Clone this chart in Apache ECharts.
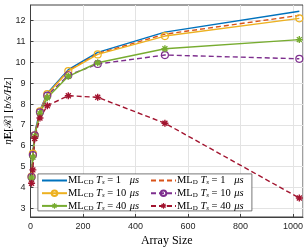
<!DOCTYPE html>
<html><head><meta charset="utf-8">
<script src="https://cdn.jsdelivr.net/npm/echarts@6/dist/echarts.min.js"></script>
<style>html,body{margin:0;padding:0;background:#fff}#c{width:307px;height:248px}</style>
</head><body><div id="c"></div>
<script>
const arraySizes = [4, 9, 16, 36, 64, 144, 256, 512, 1024];
const mlCD_Ts1  = [4.55, 5.70, 6.60, 7.70, 8.52, 9.65, 10.48, 11.45, 12.45];
const mlD_Ts1   = [4.50, 5.65, 6.55, 7.65, 8.47, 9.60, 10.42, 11.35, 12.25];
const mlCD_Ts10 = [4.52, 5.62, 6.50, 7.65, 8.47, 9.58, 10.38, 11.26, 12.11];
const mlD_Ts10  = [4.50, 5.55, 6.50, 7.60, 8.40, 9.38, 9.92, 10.35, 10.17];
const mlCD_Ts40 = [4.45, 5.45, 6.45, 7.55, 8.30, 9.33, 9.98, 10.65, 11.09];
const mlD_Ts40  = [4.20, 4.84, 6.35, 7.33, 7.92, 8.40, 8.32, 7.08, 3.49];
const xTicks = [0, 200, 400, 600, 800, 1000];
const yTicks = [3, 4, 5, 6, 7, 8, 9, 10, 11, 12];

const ast = 'path://M-0.2,-1 L0.2,-1 L0.2,1 L-0.2,1 Z M-1,-0.2 L1,-0.2 L1,0.2 L-1,0.2 Z M-0.85,-0.57 L-0.57,-0.85 L0.85,0.57 L0.57,0.85 Z M0.57,-0.85 L0.85,-0.57 L-0.57,0.85 L-0.85,0.57 Z';

function mk(name, data, color, dashed, marker) {
  const s = {
    name: name, type: 'line', data: arraySizes.map((x, i) => [x, data[i]]),
    lineStyle: { color: color, width: 1.4, type: dashed ? [5, 3] : 'solid' },
    color: color, z: 2
  };
  if (marker === 'o') {
    s.symbol = 'circle'; s.symbolSize = 7;
    s.itemStyle = { color: 'rgba(255,255,255,0)', borderColor: color, borderWidth: 1.2 };
  } else if (marker === '*') {
    s.symbol = ast; s.symbolSize = 7;
    s.itemStyle = { color: color, borderWidth: 0 };
  } else {
    s.symbol = 'none'; s.showSymbol = false;
  }
  return s;
}

const series = [
  mk('CD1', mlCD_Ts1, '#0072BD', false, null),
  mk('D1', mlD_Ts1, '#D95319', true, null),
  mk('CD10', mlCD_Ts10, '#EDB120', false, 'o'),
  mk('D10', mlD_Ts10, '#7E2F8E', true, 'o'),
  mk('CD40', mlCD_Ts40, '#77AC30', false, '*'),
  mk('D40', mlD_Ts40, '#A2142F', true, '*')
];

const labelText = {
  CD1: ['CD', '1'], D1: ['D', '1'], CD10: ['CD', '10'], D10: ['D', '10'], CD40: ['CD', '40'], D40: ['D', '40']
};
const ff = 'Liberation Serif, DejaVu Serif, serif';
const fs = 10.5;
const rich = {
  r: { fontFamily: ff, fontSize: fs, color: '#000', lineHeight: 11 },
  sub: { fontFamily: ff, fontSize: 7, color: '#000', lineHeight: 11, verticalAlign: 'bottom', padding: [3, 0, 0, 0] },
  i: { fontFamily: ff, fontSize: fs, fontStyle: 'italic', color: '#000', lineHeight: 11 },
  isub: { fontFamily: ff, fontSize: 7, fontStyle: 'italic', color: '#000', lineHeight: 11, verticalAlign: 'bottom', padding: [3, 0, 0, 0] },
  n: { fontFamily: ff, fontSize: fs, color: '#000', lineHeight: 11, width: 14, align: 'left' }
};
function fmt(name) {
  const t = labelText[name];
  return '{r|ML}{sub|' + t[0] + '}{r| }{i|T}{isub|s}{r| = }{n|' + t[1] + '}{i|μs}';
}
const hideSym = { color: 'rgba(0,0,0,0)', borderColor: 'rgba(0,0,0,0)', borderWidth: 0 };

const legendCommon = {
  orient: 'vertical', top: 175, itemWidth: 25, itemHeight: 7, itemGap: 1.7, padding: 0,
  formatter: fmt, textStyle: { rich: rich, padding: [0, 0, 0, -4] }, z: 5, selectedMode: false
};

const chart = echarts.init(document.getElementById('c'), null, { renderer: 'canvas' });
chart.setOption({
  animation: false,
  backgroundColor: '#fff',
  grid: { left: 30.5, right: 4, top: 5, bottom: 31, containLabel: false, outerBoundsMode: 'none', show: true, borderColor: '#404040', borderWidth: 1, backgroundColor: 'transparent' },
  xAxis: {
    type: 'value', min: 0, max: 1038, interval: 200,
    axisLine: { show: true, lineStyle: { color: '#404040' } },
    axisTick: { show: true, inside: true, length: 3, lineStyle: { color: '#404040' } },
    axisLabel: { fontSize: 9, fontFamily: 'Liberation Sans, Arial, sans-serif', color: '#262626', margin: 5, showMaxLabel: false, formatter: v => String(v) },
    splitLine: { show: true, lineStyle: { color: '#e3e3e3', width: 1 } },
    name: 'Array Size', nameLocation: 'middle', nameGap: 18, nameMoveOverlap: false,
    nameTextStyle: { fontFamily: ff, fontSize: 12, color: '#000' }
  },
  yAxis: {
    type: 'value', min: 2.58, max: 12.75,
    axisLine: { show: true, lineStyle: { color: '#404040' } },
    axisTick: { show: true, inside: true, length: 3, customValues: yTicks, lineStyle: { color: '#404040' } },
    axisLabel: { fontSize: 9, fontFamily: 'Liberation Sans, Arial, sans-serif', color: '#262626', margin: 5, customValues: yTicks },
    splitLine: { show: true, lineStyle: { color: '#e3e3e3', width: 1 } },
    name: '{i|η}{b|E}{r|[}{s|ℛ}{r|] [}{i|b/s/Hz}{r|]}', nameLocation: 'middle', nameGap: 17, nameRotate: 90, nameMoveOverlap: false,
    nameTextStyle: {
      rich: {
        i: { fontFamily: ff, fontSize: 11, fontStyle: 'italic', color: '#000' },
        b: { fontFamily: ff, fontSize: 11, fontWeight: 'bold', color: '#000' },
        r: { fontFamily: ff, fontSize: 11, color: '#000' },
        s: { fontFamily: 'DejaVu Serif, serif', fontSize: 10, color: '#000' }
      }
    }
  },
  graphic: [{
    type: 'rect', left: 37.5, top: 173.5, z: 4,
    shape: { width: 214, height: 37 },
    style: { fill: '#fff', stroke: '#555', lineWidth: 0.8 }
  }],
  legend: [
    Object.assign({}, legendCommon, { left: 41, data: [{ name: 'CD1', itemStyle: hideSym }, 'CD10', 'CD40'] }),
    Object.assign({}, legendCommon, { left: 150, data: [{ name: 'D1', itemStyle: hideSym }, 'D10', 'D40'] })
  ],
  series: series
});
</script></body></html>
